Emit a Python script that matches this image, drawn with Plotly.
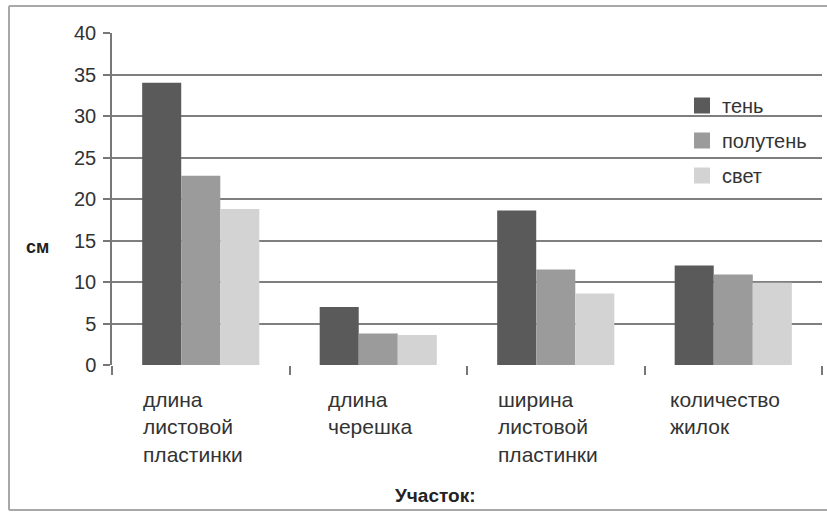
import plotly.graph_objects as go

# Leaf measurements by site (cm)
categories = ["длина листовой пластинки", "длина черешка",
              "ширина листовой пластинки", "количество жилок"]
category_lines = [["длина", "листовой", "пластинки"],
                  ["длина", "черешка"],
                  ["ширина", "листовой", "пластинки"],
                  ["количество", "жилок"]]
series_names = ["тень", "полутень", "свет"]
shade = [34.0, 7.0, 18.6, 12.0]
half_shade = [22.8, 3.8, 11.5, 10.9]
light = [18.8, 3.6, 8.6, 9.9]
y_ticks = [0, 5, 10, 15, 20, 25, 30, 35, 40]

colors = ["#5a5a5a", "#9b9b9b", "#d3d3d3"]
FONT = "Liberation Sans, Arial, sans-serif"
W, H = 827, 519
L, R, T, B = 112, 5, 33, 154
plot_w = W - L - R
plot_h = H - T - B


def px_x(px):
    return (px - L) / plot_w


def px_y(py):
    return (H - B - py) / plot_h


fig = go.Figure()
for i, (name, vals) in enumerate(zip(series_names, [shade, half_shade, light])):
    fig.add_trace(go.Bar(
        x=categories, y=vals, name=name,
        marker=dict(color=colors[i], line=dict(width=0)),
        legendgroup=name, showlegend=False,
    ))
    # legend entry with a larger square swatch
    fig.add_trace(go.Scatter(
        x=[None], y=[None], mode="markers", name=name, legendgroup=name,
        marker=dict(symbol="square", size=16, color=colors[i]),
    ))

# category labels, left-aligned blocks under each group
for cat, lines in zip(categories, category_lines):
    fig.add_annotation(
        x=cat, xref="x", y=px_y(386), yref="paper",
        text="<br>".join(lines), showarrow=False,
        xanchor="center", yanchor="top", align="left", xshift=-8,
        font=dict(family=FONT, size=21, color="#333333"),
    )

# axis titles
fig.add_annotation(x=px_x(37), y=px_y(247), xref="paper", yref="paper",
                   text="<b>см</b>", showarrow=False,
                   xanchor="center", yanchor="middle",
                   font=dict(family=FONT, size=18, color="#222222"))
fig.add_annotation(x=px_x(435), y=px_y(495), xref="paper", yref="paper",
                   text="<b>Участок:</b>", showarrow=False,
                   xanchor="center", yanchor="middle",
                   font=dict(family=FONT, size=19, color="#222222"))

# outer frame: left, top and bottom edges (right edge runs off the canvas)
frame = dict(color="#a8a8a8", width=2)
x_left, x_right = px_x(9), px_x(W + 20)
y_top, y_bottom = px_y(6), px_y(510)
for x0, y0, x1, y1 in [(x_left, y_bottom, x_left, y_top),
                       (x_left, y_top, x_right, y_top),
                       (x_left, y_bottom, x_right, y_bottom)]:
    fig.add_shape(type="line", xref="paper", yref="paper",
                  x0=x0, y0=y0, x1=x1, y1=y1, line=frame, layer="below")

fig.update_layout(
    width=W, height=H,
    margin=dict(l=L, r=R, t=T, b=B, pad=0),
    paper_bgcolor="white", plot_bgcolor="white",
    barmode="group", bargap=0.34, bargroupgap=0,
    font=dict(family=FONT, size=20, color="#333333"),
    showlegend=True,
    legend=dict(x=px_x(682), y=px_y(86), xanchor="left", yanchor="top",
                bgcolor="rgba(0,0,0,0)", traceorder="grouped",
                tracegroupgap=6, itemsizing="trace",
                font=dict(family=FONT, size=20, color="#333333"),
                itemwidth=30),
    xaxis=dict(showticklabels=False, ticks="outside", tickson="boundaries",
               ticklen=9, tickcolor="#777777", tickwidth=1.5,
               showline=False, showgrid=False, zeroline=False),
    yaxis=dict(range=[0, 40], tickvals=y_ticks, ticks="outside", ticklen=7,
               tickcolor="#777777", tickwidth=1.5, ticklabelstandoff=3,
               showline=True, linecolor="#777777", linewidth=1.5,
               showgrid=True, gridcolor="#7f7f7f", gridwidth=2,
               zeroline=False, tickfont=dict(family=FONT, size=20, color="#333333")),
)

fig.write_html("out.html")
